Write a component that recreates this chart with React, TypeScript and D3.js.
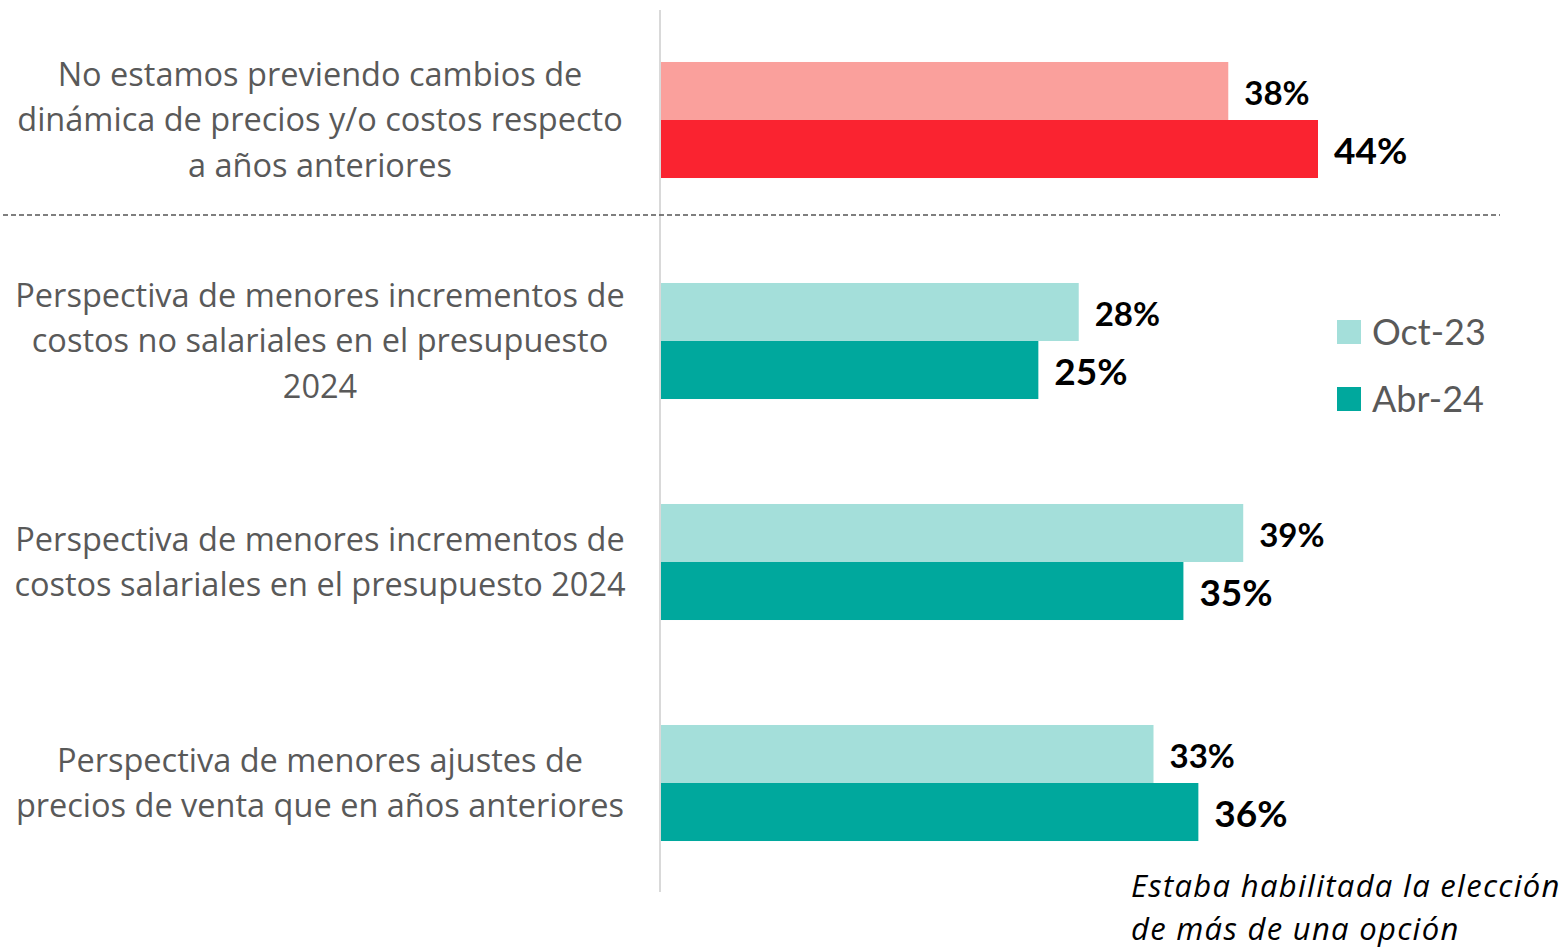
import React from "react";
import * as d3 from "d3";

const categories = [
  ["No estamos previendo cambios de", "dinámica de precios y/o costos respecto", "a años anteriores"],
  ["Perspectiva de menores incrementos de", "costos no salariales en el presupuesto", "2024"],
  ["Perspectiva de menores incrementos de", "costos salariales en el presupuesto 2024"],
  ["Perspectiva de menores ajustes de", "precios de venta que en años anteriores"],
];
const series = ["Oct-23", "Abr-24"];
const oct23 = [38, 28, 39, 33];
const abr24 = [44, 25.3, 35, 36];
const lightColors = ["#FAA09C", "#A4DFDA", "#A4DFDA", "#A4DFDA"];
const darkColors = ["#FA2330", "#00A89D", "#00A89D", "#00A89D"];
const noteLines = ["Estaba habilitada la elección", "de más de una opción"];

const W = 1568;
const H = 950;
const LABEL_FONT = "'Open Sans', sans-serif";
const VALUE_FONT = "Lato, sans-serif";
const fmt = d3.format(".0f");

export default function App() {
  const x = d3.scaleLinear().domain([0, 44]).range([660, 1318]);
  const y = d3
    .scaleBand<number>()
    .domain(d3.range(categories.length))
    .range([9.5, 9.5 + 221 * 4])
    .paddingInner(0.475)
    .paddingOuter(0.2375);
  const sub = d3.scaleBand<string>().domain(series).range([0, y.bandwidth()]);

  return (
    <svg width={W} height={H} style={{ position: "absolute", left: 0, top: 0 }}>
      <rect width={W} height={H} fill="#fff" />
      {categories.map((lines, i) => {
        const y0 = y(i)!;
        const cy = y0 + y.bandwidth() / 2;
        const vals = [oct23[i], abr24[i]];
        const cols = [lightColors[i], darkColors[i]];
        const lh = 45.5;
        return (
          <g key={i}>
            {lines.map((t, j) => (
              <text
                key={j}
                x={320}
                y={cy + (j - (lines.length - 1) / 2) * lh}
                dy="0.35em"
                textAnchor="middle"
                fontFamily={LABEL_FONT}
                fontSize={32.5}
                fill="#595959"
              >
                {t}
              </text>
            ))}
            {series.map((s, k) => {
              const by = y0 + sub(s)!;
              return (
                <g key={s}>
                  <rect
                    x={x(0)}
                    y={by}
                    width={x(vals[k]) - x(0)}
                    height={sub.bandwidth()}
                    fill={cols[k]}
                  />
                  <text
                    x={x(vals[k]) + 16}
                    y={by + sub.bandwidth() / 2 + 2}
                    dy="0.35em"
                    fontFamily={VALUE_FONT}
                    fontWeight="bold"
                    fontSize={k === 0 ? 33 : 37}
                    fill="#000"
                  >
                    {fmt(vals[k])}%
                  </text>
                </g>
              );
            })}
          </g>
        );
      })}
      <line x1={660} x2={660} y1={10} y2={892} stroke="#D9D9D9" strokeWidth={2} />
      <line
        x1={3}
        x2={1500}
        y1={215}
        y2={215}
        stroke="#555"
        strokeWidth={1.6}
        strokeDasharray="5,3"
      />
      {series.map((s, k) => (
        <g key={s}>
          <rect x={1337} y={320 + k * 67} width={24} height={24} fill={k === 0 ? "#A4DFDA" : "#00A89D"} />
          <text
            x={1372}
            y={332 + k * 67}
            dy="0.35em"
            fontFamily={VALUE_FONT}
            fontSize={36}
            fill="#595959"
          >
            {s}
          </text>
        </g>
      ))}
      {noteLines.map((t, j) => (
        <text
          key={j}
          x={1131}
          y={886 + j * 43}
          dy="0.35em"
          fontFamily={LABEL_FONT}
          fontStyle="italic"
          fontSize={31}
          letterSpacing={1.3}
          fill="#000"
        >
          {t}
        </text>
      ))}
    </svg>
  );
}
